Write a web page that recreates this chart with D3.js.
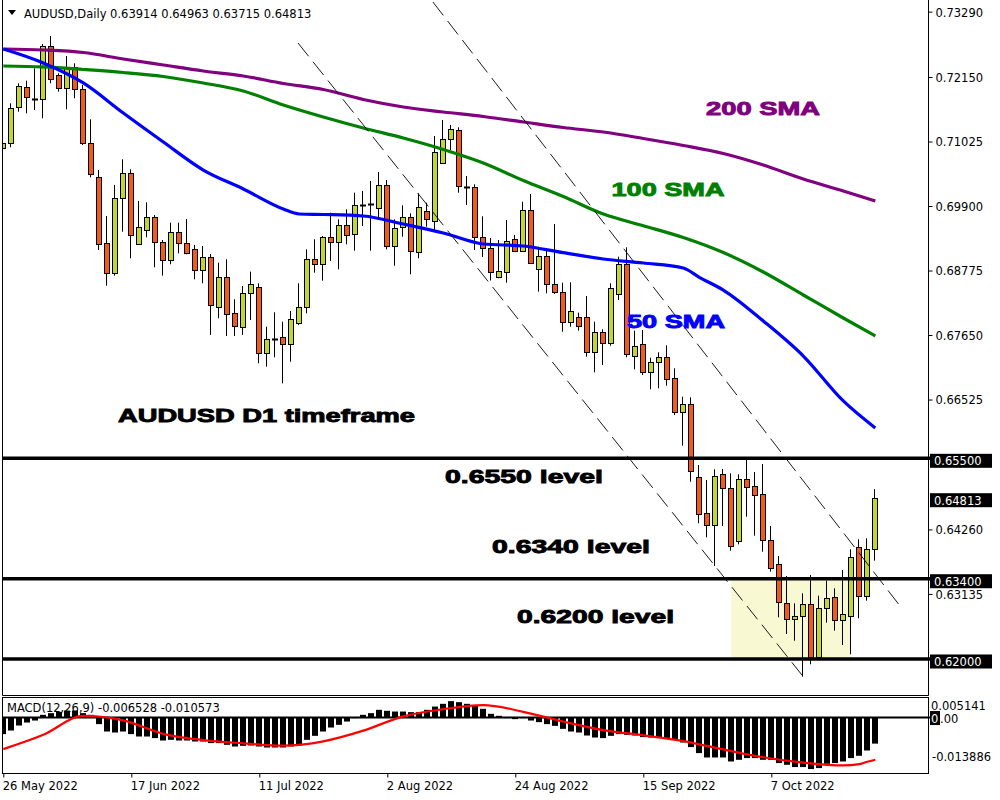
<!DOCTYPE html>
<html><head><meta charset="utf-8">
<script src="https://cdn.jsdelivr.net/npm/d3@7"></script>
<style>body{margin:0;background:#fff;} svg{display:block;font-family:"DejaVu Sans",sans-serif;}</style>
</head><body><svg id="c" width="1000" height="800"></svg>
<script>
// ---------- DATA ----------
const symbolTitle = "AUDUSD,Daily";
const lastOHLC = ["0.63914", "0.64963", "0.63715", "0.64813"];

const open = [
0.70907,0.70994,0.71622,0.71970,0.71770,0.71761,0.72691,0.72180,0.71953,0.72319,
0.71936,0.70994,0.70401,0.69250,0.68727,0.70035,0.70471,0.69238,0.69482,0.69703,
0.69273,0.68959,0.69442,0.69250,0.69145,0.68784,0.69016,0.68134,0.68657,0.68029,
0.67795,0.68378,0.68483,0.67331,0.67581,0.67611,0.67488,0.67855,0.68134,0.68971,
0.68884,0.69355,0.69267,0.69564,0.69407,0.69918,0.69935,0.69860,0.70261,0.69203,
0.69529,0.69714,0.69093,0.69818,0.69639,0.70645,0.71064,0.71221,0.70237,0.70237,
0.69365,0.69163,0.68657,0.68755,0.69325,0.69116,0.69831,0.68796,0.69028,0.68535,
0.68406,0.67872,0.67970,0.67959,0.67349,0.67698,0.67506,0.68360,0.68884,0.67290,
0.67488,0.67011,0.67175,0.67262,0.66895,0.66303,0.66442,0.65169,0.64541,0.64337,
0.65221,0.64977,0.64058,0.65134,0.65012,0.64872,0.64075,0.63652,0.62971,0.62692,
0.62750,0.62959,0.62040,0.62884,0.63076,0.62680,0.62750,0.63959,0.63099,0.63914];
const high = [
0.71121,0.71691,0.72040,0.72086,0.72302,0.72726,0.72865,0.72215,0.72516,0.72389,
0.72011,0.71412,0.70528,0.69726,0.70267,0.70715,0.70540,0.69988,0.69965,0.69743,
0.69307,0.69609,0.69609,0.69674,0.69220,0.69203,0.69063,0.68912,0.68971,0.68273,
0.68505,0.68755,0.68552,0.67795,0.68047,0.67883,0.68069,0.68552,0.69145,0.69320,
0.69377,0.69784,0.69668,0.69843,0.70132,0.70162,0.70336,0.70493,0.70354,0.69668,
0.69913,0.69773,0.70122,0.69958,0.71121,0.71400,0.71313,0.71273,0.70424,0.70279,
0.69721,0.69342,0.69307,0.69656,0.69395,0.69975,0.70110,0.69191,0.69133,0.69586,
0.68563,0.68570,0.68040,0.68331,0.67883,0.67750,0.68552,0.69016,0.69180,0.67726,
0.67738,0.67255,0.67349,0.67471,0.67070,0.66575,0.66564,0.65383,0.65122,0.65308,
0.65314,0.65239,0.65221,0.65483,0.65261,0.65401,0.64320,0.63796,0.63448,0.62971,
0.63146,0.63465,0.63104,0.63366,0.63233,0.63552,0.63913,0.64088,0.64105,0.64963];
const low = [
0.70586,0.70924,0.71545,0.71517,0.71575,0.71430,0.72040,0.71894,0.71587,0.71779,
0.70964,0.70401,0.69133,0.68510,0.68685,0.69452,0.68988,0.69220,0.69355,0.68831,
0.68685,0.68884,0.69075,0.69058,0.68622,0.68552,0.67651,0.67942,0.67633,0.67633,
0.67651,0.67912,0.67157,0.67098,0.67262,0.66808,0.67185,0.67825,0.68029,0.68737,
0.68598,0.68941,0.68796,0.69232,0.69121,0.69552,0.69121,0.69703,0.69145,0.68859,
0.69365,0.68709,0.68988,0.69539,0.69482,0.70633,0.70877,0.70132,0.69918,0.69133,
0.69011,0.68601,0.68639,0.68563,0.69103,0.69103,0.68889,0.68406,0.68378,0.68366,
0.67708,0.67795,0.67726,0.67272,0.67000,0.67127,0.67464,0.68261,0.67262,0.67052,
0.66953,0.66704,0.66721,0.66766,0.66255,0.65720,0.65092,0.64367,0.64123,0.63622,
0.64320,0.63889,0.64000,0.64482,0.64150,0.63871,0.63523,0.62727,0.62436,0.62319,
0.61691,0.61908,0.62012,0.62633,0.62494,0.62244,0.62082,0.62710,0.63017,0.63715];
const close = [
0.70994,0.71604,0.71993,0.71796,0.71762,0.72691,0.72110,0.71953,0.72319,0.71936,
0.70994,0.70458,0.69238,0.68727,0.70035,0.70471,0.69395,0.69529,0.69714,0.69273,
0.68959,0.69442,0.69250,0.69075,0.68784,0.69016,0.68174,0.68657,0.68017,0.67808,
0.68388,0.68535,0.67331,0.67576,0.67575,0.67488,0.67924,0.68134,0.68971,0.68884,
0.69355,0.69267,0.69564,0.69389,0.69923,0.69912,0.69930,0.70261,0.69203,0.69511,
0.69714,0.69116,0.69888,0.69668,0.70837,0.71074,0.71238,0.70249,0.70231,0.69365,
0.69163,0.68744,0.68772,0.69295,0.69116,0.69831,0.68912,0.69028,0.68535,0.68406,
0.67872,0.68074,0.67813,0.67349,0.67698,0.67506,0.68465,0.68884,0.67314,0.67464,
0.67011,0.67175,0.67262,0.66878,0.66303,0.66442,0.65279,0.64529,0.64337,0.65197,
0.64988,0.63971,0.65134,0.64995,0.64855,0.64075,0.63582,0.62989,0.62692,0.62750,
0.62959,0.62030,0.62884,0.63059,0.62680,0.62780,0.63774,0.63099,0.63913,0.64813];

// moving averages (read at sampled bar indices)
const sma50Idx = [0,5,10,15,20,25,30,35,37,40,45,50,55,60,65,70,75,80,85,87,90,95,100,105,109];
const sma50 = [0.72638,0.72394,0.72046,0.71522,0.71017,0.70528,0.70197,0.69848,0.69761,0.69752,0.69726,0.69586,0.69430,0.69238,0.69203,0.69086,0.68976,0.68906,0.68819,0.68657,0.68435,0.67895,0.67284,0.66500,0.66029];
const smaIdx = [0,5,10,15,20,25,30,35,40,45,50,55,60,65,70,75,80,85,90,95,100,105,109];
const sma100 = [0.72342,0.72325,0.72281,0.72229,0.72159,0.72046,0.71906,0.71662,0.71453,0.71261,0.71086,0.70886,0.70650,0.70345,0.70066,0.69761,0.69557,0.69351,0.69089,0.68749,0.68348,0.67947,0.67633];
const sma200 = [0.72638,0.72621,0.72577,0.72464,0.72359,0.72255,0.72168,0.72037,0.71932,0.71758,0.71627,0.71540,0.71461,0.71365,0.71269,0.71191,0.71078,0.70956,0.70816,0.70615,0.70371,0.70162,0.69988];

// MACD(12,26,9)
const macdHist = [
-0.00415,-0.00325,-0.0020,-0.00125,-0.00075,0.000675,0.0011,0.001425,0.00175,0.00175,
0.0011,0.000675,-0.00165,-0.0035,-0.00375,-0.0035,-0.00415,-0.00475,-0.00475,-0.00515,
-0.00575,-0.00558,-0.00575,-0.00575,-0.0060,-0.0060,-0.0064,-0.0064,-0.00683,-0.00725,
-0.00708,-0.0070,-0.00725,-0.0075,-0.0075,-0.0075,-0.00725,-0.0070,-0.00558,-0.00458,
-0.0035,-0.0025,-0.00183,-0.0010,-0.00015,0.000675,0.0011,0.00193,0.00168,0.0015,
0.0015,0.00135,0.00135,0.00193,0.00275,0.00343,0.0041,0.00385,0.00343,0.00293,
0.00218,0.00093,0.00043,-0.00015,-0.0004,-0.00015,-0.00075,-0.00115,-0.00165,-0.00208,
-0.00283,-0.0035,-0.00375,-0.0045,-0.0050,-0.00515,-0.00458,-0.00415,-0.00433,-0.0045,
-0.0049,-0.0050,-0.0050,-0.00515,-0.00558,-0.00625,-0.0074,-0.0089,-0.0100,-0.0100,
-0.0100,-0.0110,-0.01058,-0.01015,-0.01015,-0.01058,-0.01058,-0.0114,-0.01183,-0.0124,
-0.0124,-0.0129,-0.01265,-0.01158,-0.0114,-0.0110,-0.01015,-0.00958,-0.00825,-0.006528];
const signalIdx = [0,5,10,15,20,25,30,35,40,45,50,55,60,65,70,75,80,85,90,95,100,105,107,108,109];
const signal = [-0.0079,-0.00433,0.000425,-0.0007,-0.00408,-0.00565,-0.00645,-0.00703,-0.00595,-0.00328,0.0003,0.0021,0.0031,0.00143,-0.001,-0.00315,-0.00445,-0.0059,-0.00798,-0.00995,-0.0113,-0.012,-0.01165,-0.01108,-0.010573];
const macdTitle = "MACD(12,26,9) -0.006528 -0.010573";
const macdScaleLabels = ["0.005141", "0", ".00", "-0.013886"];

// axes
const dateTickIdx = [0,16,32,48,64,80,96];
const dateTickLabels = ["26 May 2022","17 Jun 2022","11 Jul 2022","2 Aug 2022","24 Aug 2022","15 Sep 2022","7 Oct 2022"];
const priceTicks = [0.73290,0.72150,0.71025,0.69900,0.68775,0.67650,0.66525,0.64260,0.63135];
const levelPrices = [0.65500, 0.63400, 0.62000];
const currentPrice = 0.64813;

// annotations
const levelTexts = ["0.6550 level", "0.6340 level", "0.6200 level"];
const smaTexts = ["200 SMA", "100 SMA", "50 SMA"];
const titleText = "AUDUSD D1 timeframe";
const zoneBars = [91, 106];
const zonePrices = [0.63400, 0.62000];
const trendUpper = [[53.7, 0.73458], [111.9, 0.62959]];
const trendLower = [[36.84, 0.72743], [100, 0.61691]];

// ---------- DRAW ----------
const svg = d3.select("#c");
const L = 2.5, R = 928.5, mainBot = 695.5, macdTop = 697.5, macdBot = 773.5;
const x = d3.scaleLinear().domain([0, 109]).range([3.3, 875.3]);
const y = d3.scaleLinear().domain([0.61372, 0.73493]).range([695, 0]);
const ym = d3.scaleLinear().domain([-0.013886, 0.005141]).range([773, 697]);
const BULL = "#c4d52b", BEAR = "#f25a1c";

svg.append("rect").attr("width",1000).attr("height",800).attr("fill","#fff");
const defs = svg.append("defs");
defs.append("clipPath").attr("id","clipMain").append("rect").attr("x",3).attr("y",0).attr("width",925).attr("height",695);
defs.append("clipPath").attr("id","clipMacd").append("rect").attr("x",3).attr("y",698).attr("width",925).attr("height",75);

const gm = svg.append("g").attr("clip-path","url(#clipMain)");

gm.append("rect")
  .attr("x", x(zoneBars[0])).attr("width", x(zoneBars[1]) - x(zoneBars[0]))
  .attr("y", y(zonePrices[0])).attr("height", y(zonePrices[1]) - y(zonePrices[0]))
  .attr("fill", "#f8f8d2");

const bars = d3.range(open.length).map(i => ({i, o:open[i], h:high[i], l:low[i], c:close[i]}));
const cg = gm.append("g");
bars.forEach(d => {
  const r = Math.round(x(d.i));
  cg.append("line").attr("x1", r-0.5).attr("x2", r-0.5)
    .attr("y1", y(d.h)).attr("y2", y(d.l)).attr("stroke","#000").attr("stroke-width",1);
  const top = Math.round(y(Math.max(d.o,d.c))) + 0.5;
  const bot = Math.round(y(Math.min(d.o,d.c))) + 0.5;
  if (bot - top < 1.5) {
    cg.append("line").attr("x1", r-3).attr("x2", r+3).attr("y1", top).attr("y2", top)
      .attr("stroke","#000").attr("stroke-width",2);
  } else {
    cg.append("rect").attr("x", r-2.5).attr("width",5).attr("y", top).attr("height", bot-top)
      .attr("fill", d.c >= d.o ? BULL : BEAR).attr("stroke","#000").attr("stroke-width",1);
  }
});

function maLine(idx, vals, color) {
  const pts = idx.map((k, j) => [x(k), y(vals[j])]);
  gm.append("path").attr("d", d3.line().curve(d3.curveMonotoneX)(pts))
    .attr("fill","none").attr("stroke",color).attr("stroke-width",3.2);
}
maLine(smaIdx, sma200, "#800080");
maLine(smaIdx, sma100, "#008000");
maLine(sma50Idx, sma50, "#0000ff");

[trendUpper, trendLower].forEach(t => {
  gm.append("line").attr("x1", x(t[0][0])).attr("y1", y(t[0][1]))
    .attr("x2", x(t[1][0])).attr("y2", y(t[1][1]))
    .attr("stroke","#000").attr("stroke-width",0.9).attr("stroke-dasharray","17,7");
});

levelPrices.forEach(p => {
  svg.append("line").attr("x1", 2).attr("x2", 931).attr("y1", y(p)).attr("y2", y(p))
    .attr("stroke","#000").attr("stroke-width",3.5);
});

svg.append("path").attr("d", `M${L},0V${mainBot}H${R}V0`).attr("fill","none").attr("stroke","#000").attr("stroke-width",1);
svg.append("rect").attr("x",L).attr("y",macdTop).attr("width",R-L).attr("height",macdBot-macdTop)
  .attr("fill","none").attr("stroke","#000").attr("stroke-width",1);

const pa = svg.append("g").attr("transform", `translate(${R},0)`)
  .call(d3.axisRight(y).tickValues(priceTicks).tickSize(4).tickPadding(3).tickFormat(d3.format(".5f")));
pa.select(".domain").remove();
pa.selectAll("text").attr("font-family","DejaVu Sans").attr("font-size","11.5px").attr("fill","#000").attr("dy","0.38em");
pa.selectAll("line").attr("stroke","#000");

function boxLabel(p, txt) {
  const yy = y(p);
  svg.append("rect").attr("x", 930).attr("y", yy-4.5).attr("width", 62).attr("height", 14).attr("fill","#000");
  svg.append("text").attr("x", 934).attr("y", yy+7).attr("fill","#fff")
    .attr("font-size","11.5px").text(txt);
}
levelPrices.forEach(p => boxLabel(p, d3.format(".5f")(p)));
boxLabel(currentPrice, d3.format(".5f")(currentPrice));

svg.append("path").attr("d","M8,10H16L12,15Z").attr("fill","#000");
svg.append("text").attr("x", 24).attr("y", 18).attr("font-size","11.5px").attr("fill","#000")
  .text(symbolTitle + "  " + lastOHLC.join(" "));

// MACD
const gmc = svg.append("g").attr("clip-path","url(#clipMacd)");
gmc.selectAll("rect.h").data(macdHist).join("rect").attr("class","h")
  .attr("x", (v,i) => Math.round(x(i)) - 3).attr("width", 6)
  .attr("y", v => Math.min(ym(v), ym(0))).attr("height", v => Math.abs(ym(v) - ym(0)))
  .attr("fill","#000");
gmc.append("line").attr("x1",2).attr("x2",R).attr("y1",ym(0)).attr("y2",ym(0)).attr("stroke","#000").attr("stroke-width",2);
svg.append("line").attr("x1",R).attr("x2",931).attr("y1",ym(0)).attr("y2",ym(0)).attr("stroke","#000").attr("stroke-width",2);
const sigPts = signalIdx.map((k,j) => [x(k), ym(signal[j])]);
gmc.append("path").attr("d", d3.line().curve(d3.curveMonotoneX)(sigPts))
  .attr("fill","none").attr("stroke","#ff0000").attr("stroke-width",2.2);
svg.append("text").attr("x", 7).attr("y", 712).attr("font-size","11.5px").attr("fill","#000").text(macdTitle);

svg.append("text").attr("x", 931).attr("y", ym(0.005141)+12.5).attr("font-size","11.5px").attr("fill","#000").text(macdScaleLabels[0]);
svg.append("rect").attr("x",930).attr("y",ym(0)-6.5).attr("width",10).attr("height",14).attr("fill","#000");
svg.append("text").attr("x", 931).attr("y", ym(0)+5).attr("font-size","11.5px").attr("fill","#fff").text(macdScaleLabels[1]);
svg.append("text").attr("x", 940).attr("y", ym(0)+5).attr("font-size","11.5px").attr("fill","#000").text(macdScaleLabels[2]);
svg.append("text").attr("x", 932).attr("y", ym(-0.013886)-12).attr("font-size","11.5px").attr("fill","#000").text(macdScaleLabels[3]);

const da = svg.append("g").attr("transform", `translate(0,${macdBot})`)
  .call(d3.axisBottom(x).tickValues(dateTickIdx).tickSize(4).tickFormat((d,i) => dateTickLabels[i]));
da.select(".domain").remove();
da.selectAll("line").attr("stroke","#000");
da.selectAll("text").attr("font-family","DejaVu Sans").attr("font-size","11.5px").attr("fill","#000")
  .attr("text-anchor","start").attr("dx","-1").attr("y", 8).attr("dy","0.71em");

function bigText(txt, x0, yb, len, color) {
  svg.append("text").attr("x", x0).attr("y", yb).attr("fill", color)
    .attr("font-family","Liberation Sans, Arial, sans-serif").attr("font-weight","bold")
    .attr("font-size","19px").attr("stroke", color).attr("stroke-width",0.9)
    .attr("textLength", len).attr("lengthAdjust","spacingAndGlyphs").text(txt);
}
bigText(titleText, 118, 421.5, 297, "#000");
bigText(levelTexts[0], 445, 483, 158, "#000");
bigText(levelTexts[1], 492, 553, 158, "#000");
bigText(levelTexts[2], 517, 623, 157, "#000");
bigText(smaTexts[0], 706, 115, 114, "#800080");
bigText(smaTexts[1], 611.5, 196, 113, "#008000");
bigText(smaTexts[2], 627, 328, 98, "#0000ff");
</script></body></html>
